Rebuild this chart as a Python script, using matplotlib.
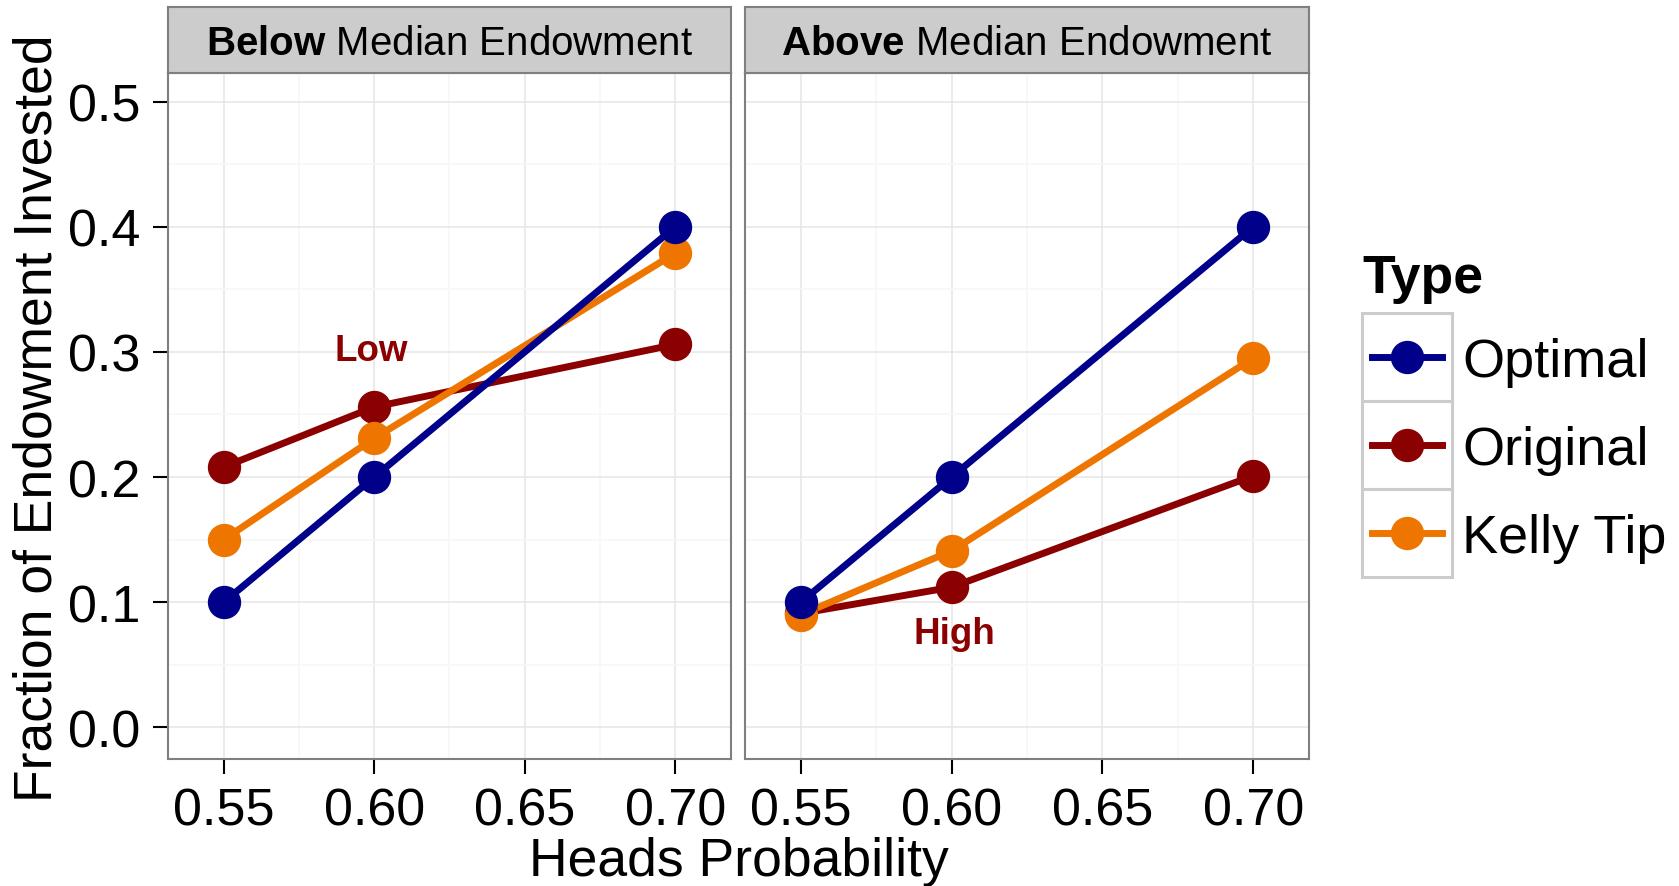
import numpy as np
import matplotlib
matplotlib.use("Agg")
import matplotlib.pyplot as plt
from matplotlib.patches import Rectangle
from matplotlib.lines import Line2D

plt.rcParams['font.family'] = ['Liberation Sans', 'DejaVu Sans']
plt.rcParams['mathtext.fontset'] = 'custom'
plt.rcParams['mathtext.rm'] = 'Liberation Sans'
plt.rcParams['mathtext.bf'] = 'Liberation Sans:bold'

# data
heads_prob = [0.55, 0.60, 0.70]
types = ['Optimal', 'Original', 'Kelly Tip']
type_colors = ['#00008B', '#8B0000', '#EE7600']
panels = ['Below', 'Above']

below_optimal = [0.100, 0.200, 0.400]
below_original = [0.208, 0.256, 0.306]
below_kelly = [0.150, 0.231, 0.379]

above_optimal = [0.100, 0.200, 0.400]
above_original = [0.091, 0.112, 0.201]
above_kelly = [0.090, 0.141, 0.295]

panel_values = [
    [below_optimal, below_original, below_kelly],
    [above_optimal, above_original, above_kelly],
]
notes = ['Low', 'High']
note_x = [0.599, 0.601]
note_y = [0.301, 0.075]

x_ticks = [0.55, 0.60, 0.65, 0.70]
x_ticklabels = ['0.55', '0.60', '0.65', '0.70']
y_ticks = [0.0, 0.1, 0.2, 0.3, 0.4, 0.5]

W, H = 1679, 887
fig = plt.figure(figsize=(W / 100, H / 100), dpi=100)


def px_box(x0, y0, x1, y1):
    # pixel box (top-left origin) -> figure fraction
    return [x0 / W, (H - y1) / H, (x1 - x0) / W, (y1 - y0) / H]


panel_px = [(168, 731), (745, 1309)]
top, bottom = 74, 760
draw_order = [1, 2, 0]  # Original, Kelly Tip, Optimal (optimal on top)

for p, (x0, x1) in enumerate(panel_px):
    ax = fig.add_axes(px_box(x0, top, x1, bottom))
    ax.set_xlim(0.5315, 0.7185)
    ax.set_ylim(-0.0253, 0.5229)
    ax.set_xticks(x_ticks)
    ax.set_xticklabels(x_ticklabels)
    ax.set_xticks([0.575, 0.625, 0.675], minor=True)
    ax.set_yticks(y_ticks)
    ax.set_yticks([0.05, 0.15, 0.25, 0.35, 0.45], minor=True)
    ax.grid(True, which='major', color='#E5E5E5', linewidth=1.1)
    ax.grid(True, which='minor', color='#F7F7F7', linewidth=1.1)
    ax.set_axisbelow(True)
    for s in ax.spines.values():
        s.set_color('#7F7F7F')
        s.set_linewidth(1.5)
    ax.tick_params(which='major', length=11, width=1.5, color='black',
                   labelsize=37.5, pad=9)
    ax.tick_params(which='minor', length=0)
    if p == 1:
        ax.tick_params(axis='y', labelleft=False, length=0)

    for i in draw_order:
        ax.plot(heads_prob, panel_values[p][i], color=type_colors[i], lw=5,
                solid_capstyle='butt', zorder=3)
    for i in draw_order:
        ax.plot(heads_prob, panel_values[p][i], 'o', color=type_colors[i],
                markersize=23, zorder=4)

    ax.text(note_x[p], note_y[p], notes[p], color='#8B0000', fontsize=26.5,
            fontweight='bold', ha='center', va='center', zorder=5)

    # facet strip
    sax = fig.add_axes(px_box(x0, 8, x1, top))
    sax.set_facecolor('#CCCCCC')
    sax.set_xticks([])
    sax.set_yticks([])
    for s in sax.spines.values():
        s.set_color('#7F7F7F')
        s.set_linewidth(1.5)
    sax.text(0.5, 0.46, r'$\bf{' + panels[p] + '}$ Median Endowment',
             transform=sax.transAxes, ha='center', va='center', fontsize=29)

fig.text(739 / W, 11 / H, 'Heads Probability', ha='center', va='baseline',
         fontsize=38.5)
fig.text(12 / W, (H - 418) / H, 'Fraction of Endowment Invested', rotation=90,
         ha='left', va='center', fontsize=38.5)

# legend drawn in a pixel-unit axes
lax = fig.add_axes([0, 0, 1, 1], facecolor='none')
lax.set_xlim(0, W)
lax.set_ylim(H, 0)
lax.axis('off')
lax.text(1362, 293, 'Type', fontsize=38.5, fontweight='bold', va='baseline')
for i, name in enumerate(types):
    ky = 314 + 88 * i
    lax.add_patch(Rectangle((1362, ky), 90, 88, facecolor='white',
                            edgecolor='#CCCCCC', linewidth=2.2))
    cy = ky + 44
    lax.add_line(Line2D([1372, 1442], [cy, cy], color=type_colors[i], lw=5))
    lax.add_line(Line2D([1407], [cy], marker='o', color=type_colors[i],
                        markersize=23))
    lax.text(1462, cy + 19, name, fontsize=39, va='baseline')

fig.savefig('out.png', dpi=100)
